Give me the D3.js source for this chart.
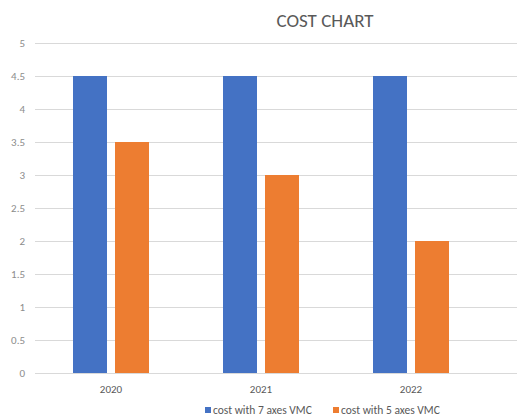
<!DOCTYPE html>
<html><head><meta charset="utf-8">
<script src="https://cdn.jsdelivr.net/npm/d3@7"></script>
<style>body{margin:0;background:#fff;}svg{display:block;font-family:Calibri,Carlito,"Open Sans","Liberation Sans",sans-serif;}</style>
</head><body>
<script>
const categories = ["2020", "2021", "2022"];
const seriesNames = ["cost with 7 axes VMC", "cost with 5 axes VMC"];
const values7 = [4.5, 4.5, 4.5];
const values5 = [3.5, 3, 2];
const yTicks = [0, 0.5, 1, 1.5, 2, 2.5, 3, 3.5, 4, 4.5, 5];
const colors = ["#4472C4", "#ED7D31"];

const W = 518, H = 419;
const FONT = "Calibri,Carlito,'Open Sans','Liberation Sans',sans-serif";
const svg = d3.select("body").append("svg").attr("width", W).attr("height", H);

const y = d3.scaleLinear().domain([0, 5]).range([373, 43]);
const x = d3.scaleBand().domain(categories).range([36, 486]).paddingInner(0).paddingOuter(0);
const inner = d3.scaleBand().domain([0, 1]).range([37, 113]).paddingInner(8/42).paddingOuter(0);

// gridlines
svg.append("g").selectAll("line").data(yTicks).join("line")
  .attr("x1", 35).attr("x2", 517)
  .attr("y1", d => y(d) + 0.5).attr("y2", d => y(d) + 0.5)
  .attr("stroke", "#d9d9d9").attr("stroke-width", 1);

// y axis labels
const yAxis = d3.axisLeft(y).tickValues(yTicks).tickSize(0).tickPadding(0).tickFormat(d => String(d));
const ya = svg.append("g").attr("transform", "translate(25,0)").call(yAxis);
ya.select(".domain").remove();
ya.selectAll("text").attr("fill", "#8c8c8c").attr("font-size", 11).style("font-family", FONT);

// bars
const data = categories.map((c, i) => ({c, v: [values7[i], values5[i]]}));
const groups = svg.append("g").selectAll("g").data(data).join("g")
  .attr("transform", d => `translate(${x(d.c)},0)`);
groups.selectAll("rect").data(d => d.v.map((v, j) => ({v, j}))).join("rect")
  .attr("x", d => inner(d.j)).attr("width", inner.bandwidth())
  .attr("y", d => y(d.v)).attr("height", d => y(0) - y(d.v))
  .attr("fill", d => colors[d.j]);

// x axis labels
const xAxis = d3.axisBottom(x).tickSize(0).tickPadding(0);
const xa = svg.append("g").attr("transform", "translate(0,385)").call(xAxis);
xa.select(".domain").remove();
xa.selectAll("text").attr("fill", "#595959").attr("font-size", 11).attr("dy", "0.75em").style("font-family", FONT);

// title
svg.append("text").attr("x", 325).attr("y", 27).attr("text-anchor", "middle")
  .attr("fill", "#595959").attr("font-size", 19).text("COST CHART");

// legend
const legX = [205, 333];
const leg = svg.append("g").selectAll("g").data(seriesNames).join("g")
  .attr("transform", (d, i) => `translate(${legX[i]},414)`);
leg.append("rect").attr("x", 0).attr("y", -7).attr("width", 6).attr("height", 6).attr("fill", (d, i) => colors[i]);
leg.append("text").attr("x", 8).attr("y", 0).attr("fill", "#595959").attr("font-size", 11.5).text(d => d);
</script>
</body></html>
